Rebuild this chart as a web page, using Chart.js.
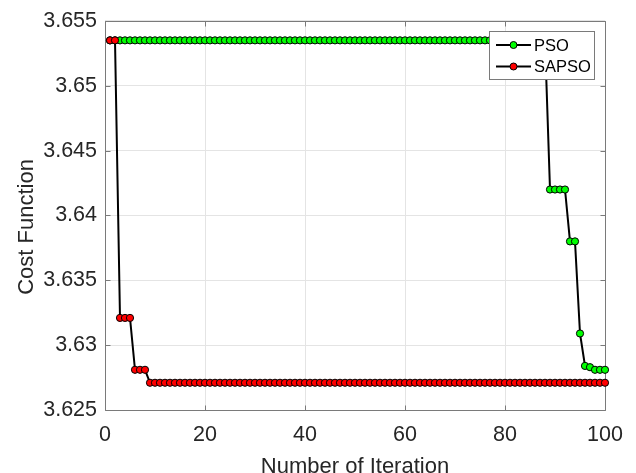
<!DOCTYPE html>
<html>
<head>
<meta charset="utf-8">
<title>PSO vs SAPSO convergence</title>
<script src="https://cdn.jsdelivr.net/npm/chart.js@4.4.1/dist/chart.umd.min.js"></script>
<style>
  html, body { margin: 0; padding: 0; background: #ffffff; }
  #wrap { width: 636px; height: 473px; }
</style>
</head>
<body>
<div id="wrap"><canvas id="cv" width="636" height="473"></canvas></div>
<script>
// Iteration numbers (x axis)
const iterations = [
  1, 2, 3, 4, 5, 6, 7, 8, 9, 10,
  11, 12, 13, 14, 15, 16, 17, 18, 19, 20,
  21, 22, 23, 24, 25, 26, 27, 28, 29, 30,
  31, 32, 33, 34, 35, 36, 37, 38, 39, 40,
  41, 42, 43, 44, 45, 46, 47, 48, 49, 50,
  51, 52, 53, 54, 55, 56, 57, 58, 59, 60,
  61, 62, 63, 64, 65, 66, 67, 68, 69, 70,
  71, 72, 73, 74, 75, 76, 77, 78, 79, 80,
  81, 82, 83, 84, 85, 86, 87, 88, 89, 90,
  91, 92, 93, 94, 95, 96, 97, 98, 99, 100
];

// Best cost per iteration, standard PSO
const psoCost = [
  3.6535, 3.6535, 3.6535, 3.6535, 3.6535, 3.6535, 3.6535, 3.6535, 3.6535, 3.6535,
  3.6535, 3.6535, 3.6535, 3.6535, 3.6535, 3.6535, 3.6535, 3.6535, 3.6535, 3.6535,
  3.6535, 3.6535, 3.6535, 3.6535, 3.6535, 3.6535, 3.6535, 3.6535, 3.6535, 3.6535,
  3.6535, 3.6535, 3.6535, 3.6535, 3.6535, 3.6535, 3.6535, 3.6535, 3.6535, 3.6535,
  3.6535, 3.6535, 3.6535, 3.6535, 3.6535, 3.6535, 3.6535, 3.6535, 3.6535, 3.6535,
  3.6535, 3.6535, 3.6535, 3.6535, 3.6535, 3.6535, 3.6535, 3.6535, 3.6535, 3.6535,
  3.6535, 3.6535, 3.6535, 3.6535, 3.6535, 3.6535, 3.6535, 3.6535, 3.6535, 3.6535,
  3.6535, 3.6535, 3.6535, 3.6535, 3.6535, 3.6535, 3.6535, 3.6535, 3.6535, 3.6535,
  3.6535, 3.6535, 3.6535, 3.6535, 3.6535, 3.6535, 3.6535, 3.6535, 3.6420, 3.6420,
  3.6420, 3.6420, 3.6380, 3.6380, 3.6309, 3.6284, 3.6283, 3.6281, 3.6281, 3.6281
];

// Best cost per iteration, self-adaptive PSO
const sapsoCost = [
  3.6535, 3.6535, 3.6321, 3.6321, 3.6321, 3.6281, 3.6281, 3.6281, 3.6271, 3.6271,
  3.6271, 3.6271, 3.6271, 3.6271, 3.6271, 3.6271, 3.6271, 3.6271, 3.6271, 3.6271,
  3.6271, 3.6271, 3.6271, 3.6271, 3.6271, 3.6271, 3.6271, 3.6271, 3.6271, 3.6271,
  3.6271, 3.6271, 3.6271, 3.6271, 3.6271, 3.6271, 3.6271, 3.6271, 3.6271, 3.6271,
  3.6271, 3.6271, 3.6271, 3.6271, 3.6271, 3.6271, 3.6271, 3.6271, 3.6271, 3.6271,
  3.6271, 3.6271, 3.6271, 3.6271, 3.6271, 3.6271, 3.6271, 3.6271, 3.6271, 3.6271,
  3.6271, 3.6271, 3.6271, 3.6271, 3.6271, 3.6271, 3.6271, 3.6271, 3.6271, 3.6271,
  3.6271, 3.6271, 3.6271, 3.6271, 3.6271, 3.6271, 3.6271, 3.6271, 3.6271, 3.6271,
  3.6271, 3.6271, 3.6271, 3.6271, 3.6271, 3.6271, 3.6271, 3.6271, 3.6271, 3.6271,
  3.6271, 3.6271, 3.6271, 3.6271, 3.6271, 3.6271, 3.6271, 3.6271, 3.6271, 3.6271
];

// Axis ticks
const xTicks = [0, 20, 40, 60, 80, 100];
const xTickLabels = ['0', '20', '40', '60', '80', '100'];
const yTicks = [3.625, 3.630, 3.635, 3.640, 3.645, 3.650, 3.655];
const yTickLabels = ['3.625', '3.63', '3.635', '3.64', '3.645', '3.65', '3.655'];

const xTitle = 'Number of Iteration';
const yTitle = 'Cost Function';

const FONT = "'Liberation Sans', Arial, Helvetica, sans-serif";
const AXIS_COLOR = '#7a7a7a';
const TEXT_COLOR = '#262626';
const GRID_COLOR = '#e4e4e4';

function toPoints(ys) {
  return ys.map((y, i) => ({ x: iterations[i], y: y }));
}

// Axes box with inward tick marks on all four sides, drawn under the data
const boxPlugin = {
  id: 'axesBox',
  beforeDatasetsDraw(chart) {
    const { ctx, chartArea: a, scales } = chart;
    const L = Math.round(a.left) + 0.5, R = Math.round(a.right) + 0.5;
    const T = Math.round(a.top) + 0.5, B = Math.round(a.bottom) + 0.5;
    const len = 5;
    ctx.save();
    ctx.strokeStyle = AXIS_COLOR;
    ctx.lineWidth = 1;
    ctx.beginPath();
    ctx.rect(L, T, R - L, B - T);
    xTicks.forEach(v => {
      const px = Math.round(scales.x.getPixelForValue(v)) + 0.5;
      ctx.moveTo(px, B); ctx.lineTo(px, B - len);
      ctx.moveTo(px, T); ctx.lineTo(px, T + len);
    });
    yTicks.forEach(v => {
      const py = Math.round(scales.y.getPixelForValue(v)) + 0.5;
      ctx.moveTo(L, py); ctx.lineTo(L + len, py);
      ctx.moveTo(R, py); ctx.lineTo(R - len, py);
    });
    ctx.stroke();
    ctx.restore();
  }
};

// Axis titles
const titlePlugin = {
  id: 'axisTitles',
  afterDraw(chart) {
    const { ctx, chartArea: a } = chart;
    ctx.save();
    ctx.fillStyle = TEXT_COLOR;
    ctx.font = '22px ' + FONT;
    ctx.textAlign = 'center';
    ctx.textBaseline = 'alphabetic';
    ctx.fillText(xTitle, (a.left + a.right) / 2, 473);
    ctx.translate(33, 227);
    ctx.rotate(-Math.PI / 2);
    ctx.fillText(yTitle, 0, 0);
    ctx.restore();
  }
};

// Boxed legend inside the upper-right corner: line segment with marker, then label
const legendPlugin = {
  id: 'boxLegend',
  afterDraw(chart) {
    const { ctx, chartArea: a } = chart;
    const w = 105, h = 48;
    const x0 = Math.round(a.right - 11.5 - w) + 0.5;
    const y0 = Math.round(a.top + 10) + 0.5;
    ctx.save();
    ctx.fillStyle = '#ffffff';
    ctx.strokeStyle = AXIS_COLOR;
    ctx.lineWidth = 1;
    ctx.fillRect(x0, y0, w, h);
    ctx.strokeRect(x0, y0, w, h);
    ctx.font = '16.5px ' + FONT;
    ctx.textAlign = 'left';
    ctx.textBaseline = 'middle';
    const order = [1, 0]; // PSO first, SAPSO second
    order.forEach((di, row) => {
      const ds = chart.data.datasets[di];
      const cy = y0 + 13.5 + row * 21.5;
      ctx.strokeStyle = '#000000';
      ctx.lineWidth = 2;
      ctx.beginPath();
      ctx.moveTo(x0 + 6.5, cy);
      ctx.lineTo(x0 + 41.5, cy);
      ctx.stroke();
      ctx.beginPath();
      ctx.arc(x0 + 24, cy, 3.5, 0, Math.PI * 2);
      ctx.fillStyle = ds.pointBackgroundColor;
      ctx.fill();
      ctx.lineWidth = 1;
      ctx.stroke();
      ctx.fillStyle = '#000000';
      ctx.fillText(ds.label, x0 + 44.5, cy + 1);
    });
    ctx.restore();
  }
};

Chart.defaults.font.family = FONT;

const seriesStyle = {
  borderColor: '#000000',
  borderWidth: 2,
  pointBorderColor: '#000000',
  pointBorderWidth: 1,
  pointRadius: 3.6,
  pointHoverRadius: 3.6,
  tension: 0,
  fill: false,
  clip: false
};

new Chart(document.getElementById('cv'), {
  type: 'line',
  data: {
    datasets: [
      Object.assign({ label: 'SAPSO', data: toPoints(sapsoCost), pointBackgroundColor: '#ff0000' }, seriesStyle),
      Object.assign({ label: 'PSO', data: toPoints(psoCost), pointBackgroundColor: '#00ff00' }, seriesStyle)
    ]
  },
  options: {
    responsive: false,
    animation: false,
    devicePixelRatio: 1,
    layout: { padding: { left: 0, right: 31, top: 18, bottom: 0 } },
    plugins: {
      legend: { display: false },
      tooltip: { enabled: false }
    },
    scales: {
      x: {
        type: 'linear',
        min: 0,
        max: 100,
        afterBuildTicks(scale) { scale.ticks = xTicks.map(v => ({ value: v })); },
        afterFit(scale) { scale.height = 63; },
        ticks: {
          autoSkip: false,
          maxRotation: 0,
          padding: 12,
          color: TEXT_COLOR,
          font: { size: 21.5 },
          callback(value) { return xTickLabels[xTicks.indexOf(value)]; }
        },
        grid: { color: GRID_COLOR, lineWidth: 1, drawTicks: false },
        border: { display: false }
      },
      y: {
        type: 'linear',
        min: 3.625,
        max: 3.655,
        afterBuildTicks(scale) { scale.ticks = yTicks.map(v => ({ value: v })); },
        afterFit(scale) { scale.width = 105; },
        ticks: {
          autoSkip: false,
          padding: 8,
          color: TEXT_COLOR,
          font: { size: 21.5 },
          callback(value) {
            const i = yTicks.findIndex(t => Math.abs(t - value) < 1e-9);
            return i >= 0 ? yTickLabels[i] : '';
          }
        },
        grid: { color: GRID_COLOR, lineWidth: 1, drawTicks: false },
        border: { display: false }
      }
    }
  },
  plugins: [boxPlugin, titlePlugin, legendPlugin]
});
</script>
</body>
</html>
